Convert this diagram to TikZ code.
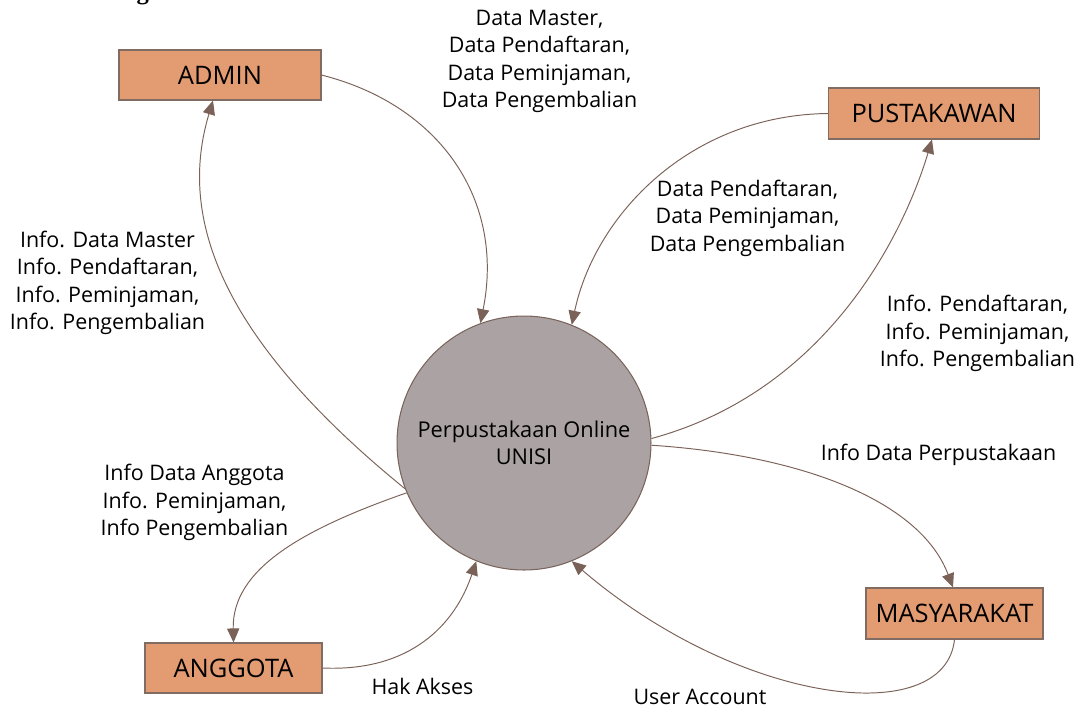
\documentclass[tikz,border=0pt]{standalone}
\usepackage{fontspec}
\setmainfont{Open Sans}
\newfontfamily\titlefont{Liberation Serif}
\usetikzlibrary{arrows.meta,calc}
\definecolor{boxfill}{RGB}{227,155,114}
\definecolor{boxline}{RGB}{128,108,98}
\definecolor{circfill}{RGB}{171,163,163}
\definecolor{circline}{RGB}{122,100,92}
\definecolor{flow}{RGB}{123,98,88}
\begin{document}
\begin{tikzpicture}[x=0.02cm,y=-0.02cm,
  entity/.style={draw=boxline, fill=boxfill, line width=0.6pt, minimum height=1cm, inner sep=0pt, font=\fontsize{14.5}{16}\selectfont},
  proc/.style={circle, draw=circline, fill=circfill, line width=0.6pt, minimum size=5.08cm, inner sep=0pt, align=center, font=\fontsize{12.4}{15.4}\selectfont},
  flowline/.style={draw=flow, line width=0.55pt, -{Triangle[length=8pt,width=7pt]}},
  lbl/.style={align=center, font=\fontsize{12.2}{15.6}\selectfont, inner sep=0pt}
]
\useasboundingbox (0,0) rectangle (1083,708);
\begin{scope}
  \clip (0,0) rectangle (1083,708);
  \node[anchor=base east, font=\titlefont\bfseries\fontsize{14}{16}\selectfont, inner sep=0pt] (title) at (193,-1) {Context Diagram};
\end{scope}

\node[entity, minimum width=4.04cm] (admin) at (220,75) {ADMIN};
\node[entity, minimum width=4.22cm, minimum height=1.02cm] (pust) at (934,113.5) {PUSTAKAWAN};
\node[entity, minimum width=3.54cm, minimum height=1.02cm] (masy) at (954.5,613.5) {MASYARAKAT};
\node[entity, minimum width=3.54cm] (angg) at (233.5,668) {ANGGOTA};
\node[proc] (sys) at (524,443) {Perpustakaan Online\\UNISI};

\draw[flowline] (admin.east) .. controls (440,105) and (505,200) .. (sys.110);
\draw[flowline] (sys.201) .. controls (210,330) and (180,210) .. ($(admin.south)+(-7,0)$);
\draw[flowline] (pust.west) .. controls (690,115) and (595,215) .. (sys.68);
\draw[flowline] (sys.2) .. controls (830,390) and (905,230) .. ($(pust.south)+(-2,0)$);
\draw[flowline] (sys.-1) .. controls (800,455) and (920,500) .. ($(masy.north)+(-1.5,0)$);
\draw[flowline] (masy.south) .. controls (945,730) and (740,705) .. (sys.-68);
\draw[flowline] (sys.203) .. controls (300,530) and (232,570) .. (angg.north);
\draw[flowline] (angg.east) .. controls (410,672) and (455,625) .. (sys.248);

\node[lbl] (l1) at (539.5,61.5) {Data Master,\\Data Pendaftaran,\\Data Peminjaman,\\Data Pengembalian};
\node[lbl] (l2) at (747.5,218) {Data Pendaftaran,\\Data Peminjaman,\\Data Pengembalian};
\node[lbl] (l3) at (977.5,333.5) {Info. Pendaftaran,\\Info. Peminjaman,\\Info. Pengembalian};
\node[lbl] (l4) at (938.5,455) {Info Data Perpustakaan};
\node[lbl] (l5) at (107.5,283) {Info. Data Master\\Info. Pendaftaran,\\Info. Peminjaman,\\Info. Pengembalian};
\node[lbl] (l6) at (194.5,502.5) {Info Data Anggota\\Info. Peminjaman,\\Info Pengembalian};
\node[lbl] (l7) at (422.5,686) {Hak Akses};
\node[lbl] (l8) at (700,697) {User Account};
\end{tikzpicture}
\end{document}
